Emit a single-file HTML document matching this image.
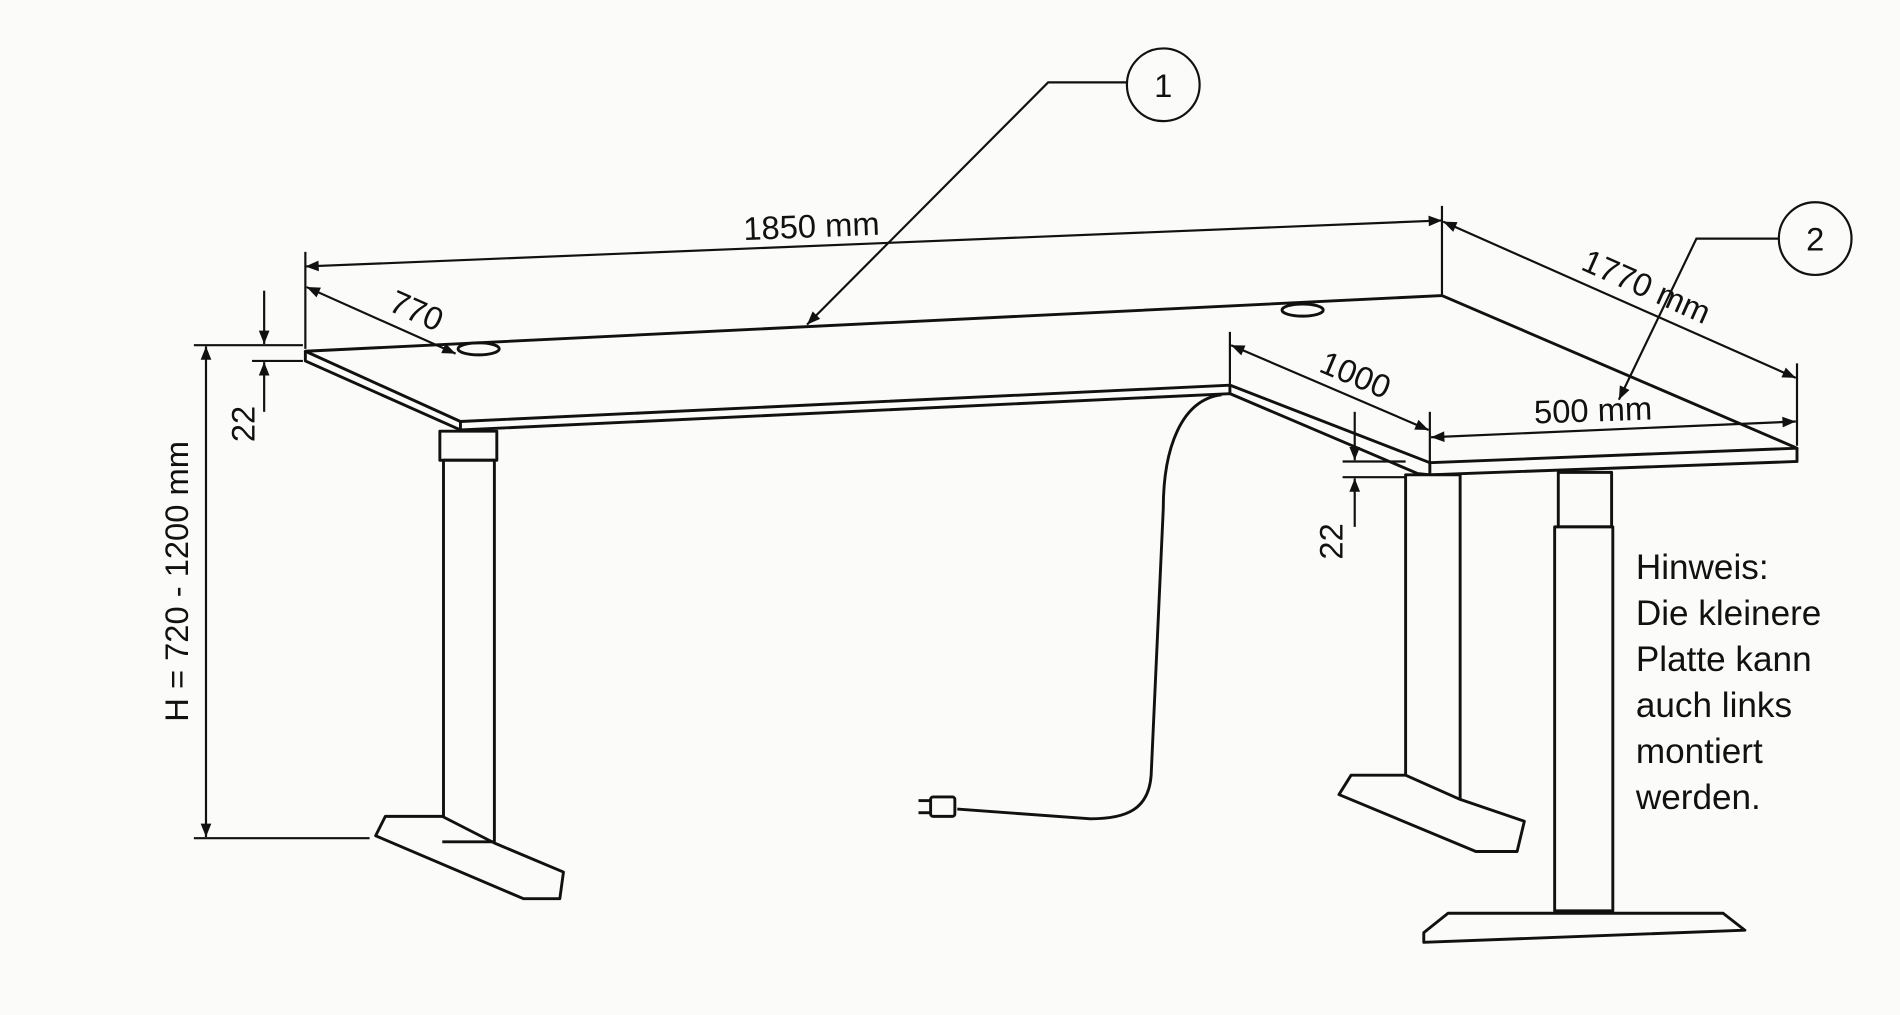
<!DOCTYPE html>
<html><head><meta charset="utf-8"><style>
html,body{margin:0;padding:0;background:#fbfbf9;}
svg{display:block;}
text{font-family:"Liberation Sans",sans-serif;fill:#111;}
</style></head><body>
<svg width="1900" height="1015" viewBox="0 0 1568 838" preserveAspectRatio="none" xmlns="http://www.w3.org/2000/svg">
<defs>
<marker id="ar" viewBox="0 0 10 10" refX="10" refY="5" markerWidth="13" markerHeight="11" orient="auto-start-reverse" markerUnits="userSpaceOnUse">
<path d="M0,1 L10,5 L0,9 z" fill="#111"/></marker>
</defs>
<g fill="none" stroke="#111" stroke-width="2.4" stroke-linejoin="round">
<polygon points="252,290 1190,244 1483,370 1180,382 1015,318 380,348" fill="#fbfbf9"/>
<polyline points="252,290 252,298 380,355 1015,325 1170,391 1180,392 1483,381 1483,370"/>
<line x1="380" y1="348" x2="380" y2="355"/>
<line x1="1015" y1="318" x2="1015" y2="325"/>
<line x1="1180" y1="382" x2="1180" y2="392"/>
<ellipse cx="395" cy="288" rx="17" ry="5"/>
<ellipse cx="1075" cy="256" rx="17" ry="5"/>
<rect x="363" y="356" width="47" height="24" fill="#fbfbf9"/>
<rect x="366" y="380" width="42" height="315" fill="#fbfbf9"/>
<polygon points="318,674 365,674 408,696 465,720 462,742 432,742 310,690" fill="#fbfbf9"/>
<line x1="365" y1="695" x2="408" y2="695"/>
<rect x="1160" y="392" width="45" height="268" fill="#fbfbf9"/>
<polygon points="1115,640 1160,640 1205,660 1258,678 1252,703 1218,703 1105,656" fill="#fbfbf9"/>
<rect x="1286" y="390" width="44" height="45" fill="#fbfbf9"/>
<rect x="1283" y="435" width="48" height="317" fill="#fbfbf9"/>
<polygon points="1195,754 1422,754 1440,768 1175,778 1175,770" fill="#fbfbf9"/>
<path d="M1008,326 C975,330 960,370 960,420 L950,640 C948,668 930,676 900,676 L790,668"/>
<rect x="768" y="658" width="20" height="16" rx="2"/>
<line x1="768" y1="661" x2="758" y2="661"/><line x1="768" y1="671" x2="758" y2="671"/>
</g>
<g fill="none" stroke="#111" stroke-width="1.8">
<line x1="252" y1="208" x2="252" y2="288"/>
<line x1="1190" y1="170" x2="1190" y2="243"/>
<line x1="252" y1="220" x2="1190" y2="182" marker-start="url(#ar)" marker-end="url(#ar)"/>
<line x1="253" y1="237" x2="376" y2="292" marker-start="url(#ar)" marker-end="url(#ar)"/>
<line x1="1483" y1="300" x2="1483" y2="368"/>
<line x1="1191" y1="183" x2="1482" y2="312" marker-start="url(#ar)" marker-end="url(#ar)"/>
<line x1="1015" y1="274" x2="1015" y2="317"/>
<line x1="1180" y1="340" x2="1180" y2="381"/>
<line x1="1016" y1="285" x2="1179" y2="355" marker-start="url(#ar)" marker-end="url(#ar)"/>
<line x1="1181" y1="361" x2="1482" y2="348" marker-start="url(#ar)" marker-end="url(#ar)"/>
<line x1="160" y1="285" x2="250" y2="285"/>
<line x1="160" y1="692" x2="305" y2="692"/>
<line x1="170" y1="286" x2="170" y2="691" marker-start="url(#ar)" marker-end="url(#ar)"/>
<line x1="208" y1="298" x2="250" y2="298"/>
<line x1="218" y1="240" x2="218" y2="284" marker-end="url(#ar)"/>
<line x1="218" y1="340" x2="218" y2="299" marker-end="url(#ar)"/>
<line x1="1108" y1="381" x2="1160" y2="381"/>
<line x1="1108" y1="394" x2="1160" y2="394"/>
<line x1="1118" y1="340" x2="1118" y2="380" marker-end="url(#ar)"/>
<line x1="1118" y1="435" x2="1118" y2="395" marker-end="url(#ar)"/>
<circle cx="960" cy="70" r="30" fill="#fbfbf9"/>
<polyline points="930,68 865,68 666,268" marker-end="url(#ar)"/>
<circle cx="1498" cy="197" r="30" fill="#fbfbf9"/>
<polyline points="1468,197 1400,197 1336,330" marker-end="url(#ar)"/>
</g>
<g font-size="27">
<text x="960" y="80" text-anchor="middle">1</text>
<text x="1498" y="207" text-anchor="middle">2</text>
<text x="670" y="196" text-anchor="middle" transform="rotate(-2.3 670 196)">1850 mm</text>
<text x="340" y="265" text-anchor="middle" transform="rotate(24 340 265)">770</text>
<text x="1355" y="245" text-anchor="middle" transform="rotate(24 1355 245)">1770 mm</text>
<text x="1115" y="318" text-anchor="middle" transform="rotate(23 1115 318)">1000</text>
<text x="1315" y="348" text-anchor="middle" transform="rotate(-2 1315 348)">500 mm</text>
<text x="155" y="480" text-anchor="middle" transform="rotate(-90 155 480)">H = 720 - 1200 mm</text>
<text x="210" y="350" text-anchor="middle" transform="rotate(-90 210 350)">22</text>
<text x="1108" y="447" text-anchor="middle" transform="rotate(-90 1108 447)">22</text>
</g>
<g font-size="29">
<text x="1350" y="478">Hinweis:</text>
<text x="1350" y="516">Die kleinere</text>
<text x="1350" y="554">Platte kann</text>
<text x="1350" y="592">auch links</text>
<text x="1350" y="630">montiert</text>
<text x="1350" y="668">werden.</text>
</g>
</svg>
</body></html>
